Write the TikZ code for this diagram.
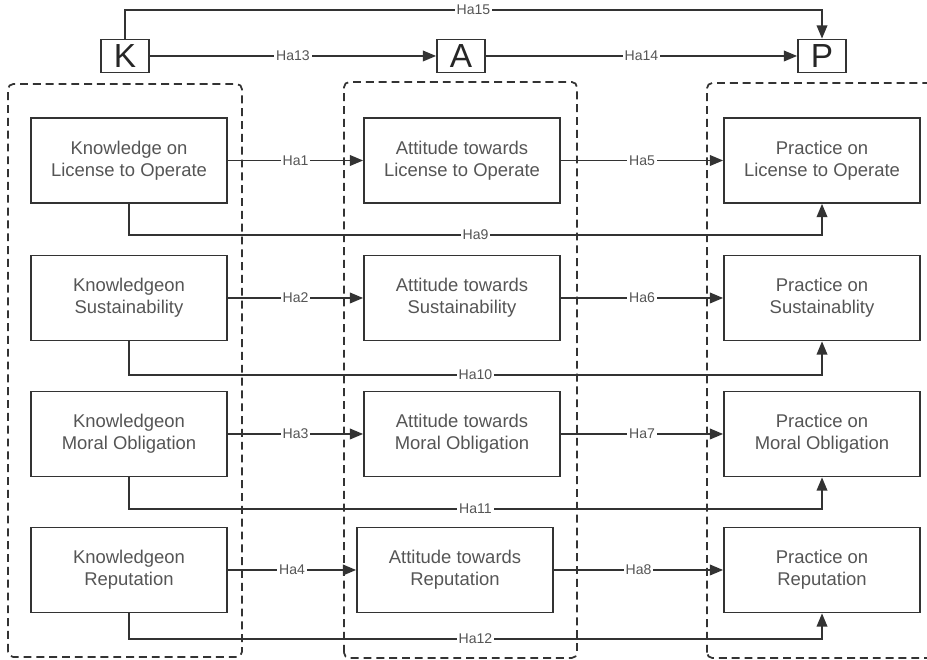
\documentclass[tikz,border=0pt]{standalone}
\usepackage{fontspec}
\setmainfont{Liberation Sans}
\usetikzlibrary{arrows.meta}
\definecolor{linegray}{HTML}{333333}
\definecolor{textgray}{HTML}{555555}
\tikzset{
  box/.style={draw=linegray, line width=1pt, minimum width=3.92cm, minimum height=1.7cm,
    align=center, text=textgray, font=\fontsize{10.5}{12.5}\selectfont},
  letterbox/.style={draw=linegray, line width=1pt, minimum width=.96cm, minimum height=.66cm,
    inner sep=0pt, text=black!85, font=\fontsize{19}{20}\selectfont},
  group/.style={draw=linegray, line width=1pt, dash pattern=on 4.5pt off 2.8pt, rounded corners=3pt},
  link/.style={draw=linegray, line width=1pt, -{Triangle[length=7.5pt,width=6pt]}},
  hyp/.style={fill=white, inner sep=1pt, text=textgray, font=\fontsize{8}{9}\selectfont},
}
\begin{document}
\begin{tikzpicture}
    \clip (0,0) rectangle (18.54,13.2);
    % dashed groups
    \draw[group] (0.16,0.06) rectangle (4.84,11.52);
    \draw[group] (6.88,0.04) rectangle (11.54,11.56);
    \draw[group] (14.14,0.04) rectangle (19,11.54);
    % K A P
    \node[letterbox] (K) at (2.5,12.08) {K};
    \node[letterbox] (A) at (9.22,12.08) {A};
    \node[letterbox] (P) at (16.44,12.08) {P};
    \draw[link] (K) -- node[hyp] (h13) {Ha13} (A);
    \draw[link] (A) -- node[hyp] (h14) {Ha14} (P);
    \draw[link] (K.north) -- ++(0,.57) -| node[hyp,pos=.25] (h15) {Ha15} (P.north);
    % knowledge
    \node[box] (know1) at (2.58,9.99) {Knowledge on\\License to Operate};
    \node[box] (know2) at (2.58,7.24) {Knowledgeon\\Sustainability};
    \node[box] (know3) at (2.58,4.52) {Knowledgeon\\Moral Obligation};
    \node[box] (know4) at (2.58,1.80) {Knowledgeon\\Reputation};
    % attitude
    \node[box] (att1) at (9.24,9.99) {Attitude towards\\License to Operate};
    \node[box] (att2) at (9.24,7.24) {Attitude towards\\Sustainability};
    \node[box] (att3) at (9.24,4.52) {Attitude towards\\Moral Obligation};
    \node[box] (att4) at (9.10,1.80) {Attitude towards\\Reputation};
    % practice
    \node[box] (prac1) at (16.44,9.99) {Practice on\\License to Operate};
    \node[box] (prac2) at (16.44,7.24) {Practice on\\Sustainablity};
    \node[box] (prac3) at (16.44,4.52) {Practice on\\Moral Obligation};
    \node[box] (prac4) at (16.44,1.80) {Practice on\\Reputation};
    % K -> A
    \draw[link] (know1) -- node[hyp] (h1) {Ha1} (att1);
    \draw[link] (know2) -- node[hyp] (h2) {Ha2} (att2);
    \draw[link] (know3) -- node[hyp] (h3) {Ha3} (att3);
    \draw[link] (know4) -- node[hyp] (h4) {Ha4} (att4);
    % A -> P
    \draw[link] (att1) -- node[hyp] (h5) {Ha5} (prac1);
    \draw[link] (att2) -- node[hyp] (h6) {Ha6} (prac2);
    \draw[link] (att3) -- node[hyp] (h7) {Ha7} (prac3);
    \draw[link] (att4) -- node[hyp] (h8) {Ha8} (prac4);
    % K -> P
    \draw[link] (know1.south) -- ++(0,-.62) -| node[hyp,pos=.25] (h9) {Ha9} (prac1.south);
    \draw[link] (know2.south) -- ++(0,-.67) -| node[hyp,pos=.25] (h10) {Ha10} (prac2.south);
    \draw[link] (know3.south) -- ++(0,-.63) -| node[hyp,pos=.25] (h11) {Ha11} (prac3.south);
    \draw[link] (know4.south) -- ++(0,-.51) -| node[hyp,pos=.25] (h12) {Ha12} (prac4.south);
\end{tikzpicture}
\end{document}
